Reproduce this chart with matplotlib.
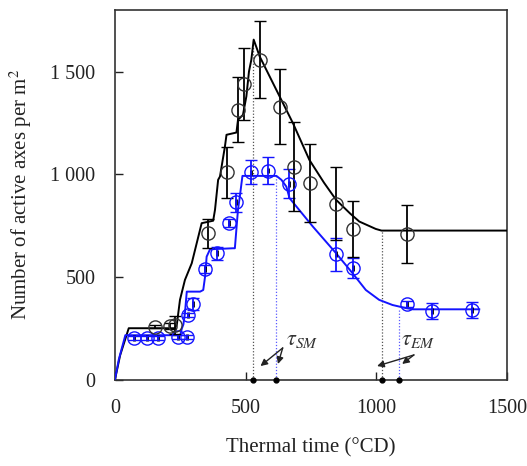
import matplotlib
matplotlib.use("Agg")
import matplotlib.pyplot as plt

plt.rcParams['font.family'] = ['Liberation Serif', 'DejaVu Serif']
plt.rcParams['mathtext.fontset'] = 'stix'

# Observed data (black = total, blue = second series)
black_x = [154, 211, 230, 357, 427, 471, 493, 554, 630, 687, 747, 844, 912, 1119]
black_y = [260, 263, 268, 714, 1010, 1315, 1440, 1558, 1329, 1037, 959, 857, 734, 711]
black_err = [8, 15, 45, 70, 125, 158, 175, 188, 182, 217, 188, 178, 137, 140]

blue_x = [72, 123, 164, 243, 275, 281, 298, 345, 389, 437, 465, 522, 586, 668, 846, 912, 1119, 1212, 1366]
blue_y = [205, 205, 205, 208, 208, 315, 370, 539, 617, 763, 865, 1010, 1019, 955, 612, 544, 370, 337, 341]
blue_err = [10, 10, 10, 10, 10, 10, 28, 20, 32, 20, 46, 58, 67, 70, 80, 50, 15, 40, 37]
blue_inner_err = [14] * len(blue_x)

# Model curves
black_model_x = [0, 20, 53, 230, 237, 249, 268, 294, 332, 376, 383, 395, 402, 421, 427, 465, 471, 490,
                 503, 513, 522, 531, 554, 681, 744, 800, 846, 900, 935, 998, 1020, 1500]
black_model_y = [0, 120, 252, 252, 270, 390, 487, 568, 763, 775, 828, 974, 990, 1136, 1193, 1204, 1266, 1290,
                 1380, 1501, 1558, 1656, 1574, 1250, 1071, 960, 877, 810, 771, 735, 727, 727]

blue_model_x = [0, 15, 40, 250, 256, 262, 268, 275, 326, 338, 345, 351, 364, 452, 459, 471, 478, 488,
                618, 637, 656, 668, 757, 846, 909, 960, 1011, 1062, 1113, 1140, 1394]
blue_model_y = [0, 100, 218, 218, 250, 270, 325, 430, 430, 438, 503, 600, 636, 641, 641, 830, 893, 993,
                993, 974, 941, 885, 747, 617, 520, 438, 390, 365, 350, 344, 344]

# Characteristic times (tau_SM, tau_EM) and the curve values there
black_tau_x = [529, 1020]
black_tau_top = [1656, 727]
blue_tau_x = [615, 1087]
blue_tau_top = [993, 345]

y_ticks = [0, 500, 1000, 1500]
y_tick_labels = ['0', '500', '1 000', '1 500']
x_ticks = [0, 500, 1000, 1500]
x_tick_labels = ['0', '500', '1000', '1500']

BLUE = '#1414ff'

fig = plt.figure(figsize=(5.27, 4.66), dpi=100)
ax = fig.add_axes([0.218, 0.1845, 0.744, 0.794])

# dotted vertical lines
for xv, top in zip(black_tau_x, black_tau_top):
    ax.plot([xv, xv], [0, top], color='#555555', lw=0.9, ls=(0, (1, 1.5)), zorder=1)
for xv, top in zip(blue_tau_x, blue_tau_top):
    ax.plot([xv, xv], [0, top], color='#5a5aff', lw=0.9, ls=(0, (1, 1.5)), zorder=1)
ax.plot(black_tau_x + blue_tau_x, [0] * 4, 'o', color='black', ms=3.5, clip_on=False, zorder=5)

# model curves
ax.plot(black_model_x, black_model_y, color='black', lw=1.4, zorder=3)
ax.plot(blue_model_x, blue_model_y, color=BLUE, lw=1.4, zorder=3)

# observations
ax.errorbar(blue_x, blue_y, yerr=blue_inner_err, fmt='none', ecolor='black', elinewidth=2.0,
            capsize=0, zorder=4)
ax.errorbar(blue_x, blue_y, yerr=blue_err, fmt='o', mfc='none', mec=BLUE, ms=9.5, mew=1.0,
            ecolor=BLUE, elinewidth=1.3, capsize=4, capthick=1.3, zorder=4)
ax.errorbar(black_x, black_y, yerr=black_err, fmt='o', mfc='none', mec='#333333', ms=9.5, mew=1.0,
            ecolor='black', elinewidth=1.3, capsize=4, capthick=1.3, zorder=4)

# annotations
arrow = dict(arrowstyle='-|>', color='#222222', lw=1.0, mutation_scale=10, shrinkA=0, shrinkB=0)
ax.text(655, 190, r'$\tau_{SM}$', fontsize=16, va='center', ha='left', color='#333333')
ax.annotate('', xy=(557, 68), xytext=(642, 156), arrowprops=arrow)
ax.annotate('', xy=(624, 78), xytext=(642, 156), arrowprops=arrow)
ax.text(1095, 190, r'$\tau_{EM}$', fontsize=16, va='center', ha='left', color='#333333')
ax.annotate('', xy=(1003, 68), xytext=(1144, 122), arrowprops=arrow)
ax.annotate('', xy=(1099, 78), xytext=(1144, 122), arrowprops=arrow)

ax.set_xlim(0, 1500)
ax.set_ylim(0, 1800)
ax.set_xticks(x_ticks)
ax.set_xticklabels(x_tick_labels)
ax.set_yticks(y_ticks)
ax.set_yticklabels(y_tick_labels)
ax.tick_params(direction='in', length=6, width=1.0, labelsize=14.5, pad=14, colors='#222222')
ax.tick_params(axis='x', pad=14)
for s in ax.spines.values():
    s.set_linewidth(1.2)
    s.set_color('#333333')

ax.set_xlabel('Thermal time (°CD)', fontsize=15, labelpad=14, color='#222222')
ax.set_ylabel('Number of active axes per m$^{2}$', fontsize=15, labelpad=12, color='#222222')

fig.savefig('out.png', dpi=100)
